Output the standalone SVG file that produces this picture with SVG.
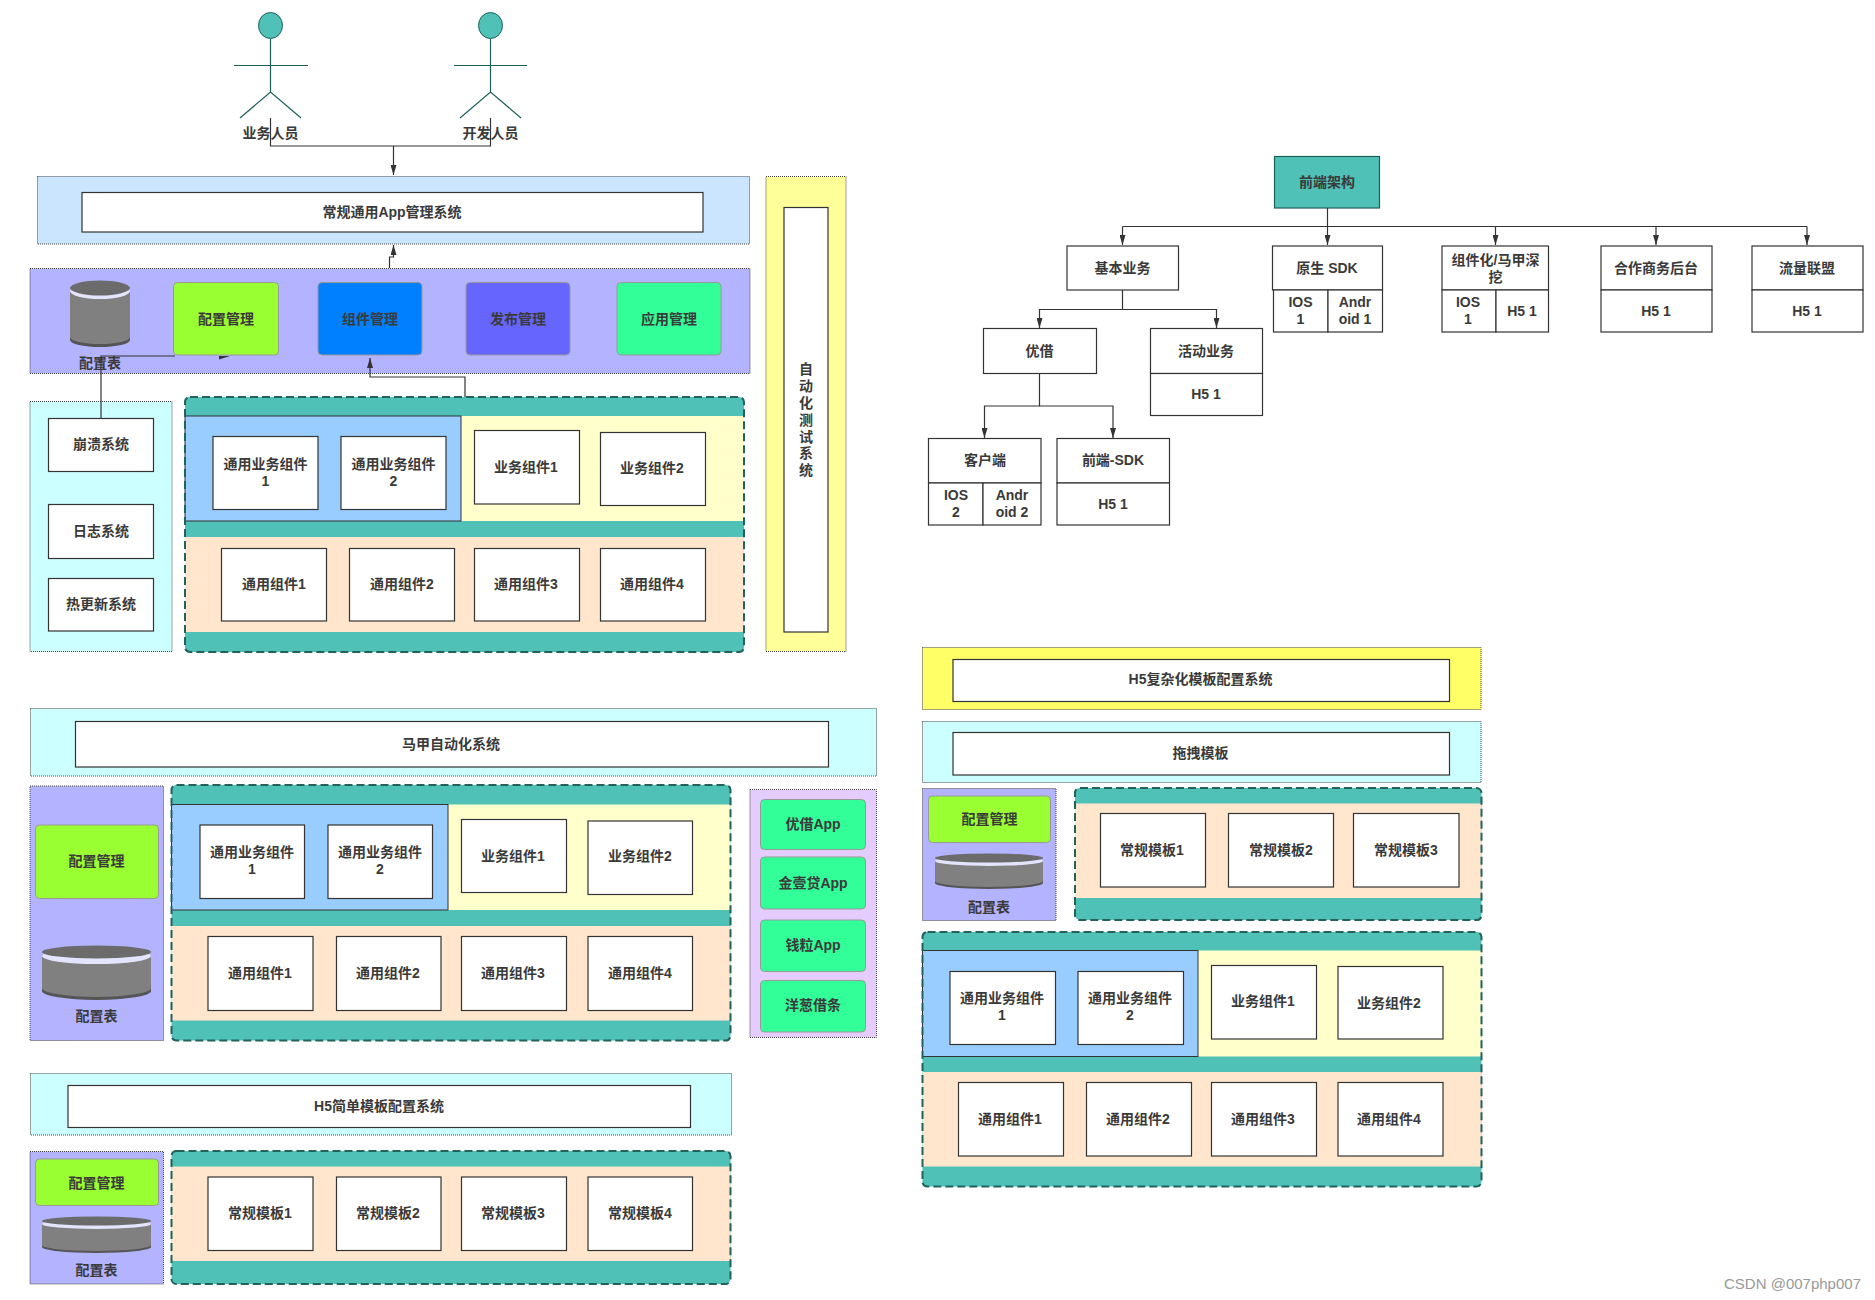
<svg xmlns="http://www.w3.org/2000/svg" width="1875" height="1300" viewBox="0 0 1875 1300">
<defs>
<style>
text{font-family:"Liberation Sans","Noto Sans CJK SC",sans-serif;font-size:14px;font-weight:700;fill:#3a3a3a;text-anchor:middle;dominant-baseline:central}
.p{stroke:#444;stroke-width:1;stroke-dasharray:1 1}
.w{fill:#fff;stroke:#333;stroke-width:1.2}
.t{fill:#4fc1b7}
.d{fill:none;stroke:#23615b;stroke-width:2;stroke-dasharray:8 4}
.s{stroke:none}
.r{stroke:#999;stroke-width:1}
.c{fill:none;stroke:#333;stroke-width:1.2}
.a{stroke:#1f5f5a;stroke-width:1.2;fill:none}
.h{fill:#4fc1b7;stroke:#1f5f5a;stroke-width:1}
.cb{fill:#808080}.cd{fill:#555}.ct{fill:#6b6b6b}.cl{fill:#e4e4ff}
.e1{fill:#ccffff}.e2{fill:#b3b3ff}.e3{fill:#99ff33}.e4{fill:#33ff99}.e5{fill:#ffe6cc}.e6{fill:#99ccff}.e7{fill:#ffffcc}
</style>
<marker id="arr" viewBox="0 0 10 6" refX="10" refY="3" markerWidth="10" markerHeight="6" markerUnits="userSpaceOnUse" orient="auto"><path d="M0 0L10 3L0 6Z" fill="#333"/></marker>
</defs>
<rect width="1875" height="1300" fill="#fff"/>

<g id="actor-business">
<ellipse class="h" cx="270.5" cy="25.5" rx="12" ry="13"/>
<path class="a" d="M270.5 39V92M234 65.5H308M240 118L270.5 92L301 118"/>
<text x="270.5" y="133">业务人员</text>
</g>
<g id="actor-developer">
<ellipse class="h" cx="490.5" cy="25.5" rx="12" ry="13"/>
<path class="a" d="M490.5 39V92M454 65.5H527M460 118L490.5 92L521 118"/>
<text x="490.5" y="133">开发人员</text>
</g>

<!-- app management system -->
<g id="app-system">
<rect class="p" x="37.5" y="176.5" width="712" height="67.5" fill="#cce5ff"/>
<rect class="w" x="82" y="192.5" width="621" height="39.5"/>
<text x="392" y="212">常规通用App管理系统</text>
</g>
<g id="app-tools">
<rect class="p" x="30" y="268.5" width="720" height="105" fill="#b3b3ff"/>
<path class="cd" d="M70 290V340A30 7 0 0 0 130 340V290Z"/>
<path class="cb" d="M70 290V337A30 7 0 0 0 130 337V290Z"/>
<ellipse class="cl" cx="100" cy="291" rx="30" ry="8"/>
<ellipse class="ct" cx="100" cy="288" rx="30" ry="7.5"/>
<text x="100" y="363">配置表</text>
</g>
<g id="tool-config"><rect class="e3 r" x="173.5" y="282.5" width="105" height="72.5" rx="4"/><text x="226" y="319">配置管理</text></g>
<g id="tool-component"><rect class="r" x="318" y="282.5" width="104" height="72.5" rx="4" fill="#007fff"/><text x="370" y="319">组件管理</text></g>
<g id="tool-release"><rect class="r" x="466" y="282.5" width="104" height="72.5" rx="4" fill="#6666ff"/><text x="518" y="319">发布管理</text></g>
<g id="tool-app"><rect class="e4 r" x="617" y="282.5" width="104" height="72.5" rx="4"/><text x="669" y="319">应用管理</text></g>

<g id="support-systems">
<rect class="p e1" x="30" y="401.5" width="142" height="250"/>
<rect class="w" x="48.5" y="418.5" width="105" height="53"/><text x="101" y="444">崩溃系统</text>
<rect class="w" x="48.5" y="504.5" width="105" height="54"/><text x="101" y="531">日志系统</text>
<rect class="w" x="48.5" y="578.5" width="105" height="52.5"/><text x="101" y="604">热更新系统</text>
</g>

<g id="app-components">
<rect class="t" x="185" y="397" width="559" height="255" rx="5"/>
<rect class="e7 s" x="185" y="416" width="559" height="105"/>
<rect class="e6" x="185" y="416" width="276" height="105" stroke="#333"/>
<rect class="e5 s" x="185" y="537" width="559" height="95"/>
<rect class="d" x="185" y="397" width="559" height="255" rx="5"/>
<rect class="w" x="213" y="436.5" width="105" height="73"/><text x="265.5" y="463.5">通用业务组件</text><text x="265.5" y="480.5">1</text>
<rect class="w" x="341" y="436.5" width="105" height="73"/><text x="393.5" y="463.5">通用业务组件</text><text x="393.5" y="480.5">2</text>
<rect class="w" x="474.5" y="430.5" width="105" height="73.5"/><text x="526" y="467">业务组件1</text>
<rect class="w" x="600.5" y="432.5" width="105" height="73"/><text x="652" y="468">业务组件2</text>
<rect class="w" x="221.5" y="548.5" width="105" height="72.5"/><text x="274" y="584">通用组件1</text>
<rect class="w" x="349.5" y="548.5" width="105" height="72.5"/><text x="402" y="584">通用组件2</text>
<rect class="w" x="474.5" y="548.5" width="105" height="72.5"/><text x="526" y="584">通用组件3</text>
<rect class="w" x="600.5" y="548.5" width="105" height="72.5"/><text x="652" y="584">通用组件4</text>
</g>

<g id="auto-test">
<rect class="p" x="766" y="176.5" width="80" height="475" fill="#ffff99"/>
<rect class="w" x="784" y="207.5" width="44" height="424.5"/>
<text x="806" y="369">自</text><text x="806" y="386">动</text><text x="806" y="403">化</text><text x="806" y="420">测</text><text x="806" y="437">试</text><text x="806" y="453">系</text><text x="806" y="470">统</text>
</g>

<!-- shell app automation -->
<g id="shell-system">
<rect class="p e1" x="30.5" y="708.5" width="846" height="67.5"/>
<rect class="w" x="75.5" y="721.5" width="753" height="45.5"/>
<text x="451" y="744">马甲自动化系统</text>
</g>
<g id="shell-config">
<rect class="p e2" x="30" y="786" width="133.5" height="254.5"/>
<rect class="e3 r" x="35.5" y="825" width="123" height="73.5" rx="4"/>
<text x="96.5" y="861">配置管理</text>
<path class="cd" d="M42 955V991A54.5 9 0 0 0 151 991V955Z"/>
<path class="cb" d="M42 955V988A54.5 9 0 0 0 151 988V955Z"/>
<ellipse class="cl" cx="96.5" cy="956" rx="54.5" ry="8"/>
<ellipse class="ct" cx="96.5" cy="952" rx="54.5" ry="6.5"/>
<text x="96.5" y="1016">配置表</text>
</g>
<g id="shell-components">
<rect class="t" x="171.5" y="785" width="559" height="255.5" rx="5"/>
<rect class="e7 s" x="171.5" y="804.5" width="559" height="105.5"/>
<rect class="e6" x="171.5" y="804.5" width="276.5" height="105.5" stroke="#333"/>
<rect class="e5 s" x="171.5" y="926" width="559" height="94.5"/>
<rect class="d" x="171.5" y="785" width="559" height="255.5" rx="5"/>
<rect class="w" x="200" y="825" width="104.5" height="73.5"/><text x="252" y="852">通用业务组件</text><text x="252" y="869">1</text>
<rect class="w" x="328" y="825" width="104.5" height="73.5"/><text x="380" y="852">通用业务组件</text><text x="380" y="869">2</text>
<rect class="w" x="461.5" y="819.5" width="105" height="73"/><text x="513" y="856">业务组件1</text>
<rect class="w" x="588" y="821" width="104.5" height="73.5"/><text x="640" y="856">业务组件2</text>
<rect class="w" x="208" y="936.5" width="105" height="74"/><text x="260" y="973">通用组件1</text>
<rect class="w" x="336.5" y="936.5" width="104.5" height="74"/><text x="388" y="973">通用组件2</text>
<rect class="w" x="461.5" y="936.5" width="105" height="74"/><text x="513" y="973">通用组件3</text>
<rect class="w" x="588" y="936.5" width="104.5" height="74"/><text x="640" y="973">通用组件4</text>
</g>
<g id="shell-apps">
<rect class="p" x="750" y="789.5" width="126.5" height="248" fill="#e5ccff"/>
<rect class="e4 r" x="760.5" y="799.5" width="105" height="50" rx="4"/><text x="813" y="824">优借App</text>
<rect class="e4 r" x="760.5" y="857" width="105" height="52" rx="4"/><text x="813" y="883">金壹贷App</text>
<rect class="e4 r" x="760.5" y="920" width="105" height="51.5" rx="4"/><text x="813" y="945">钱粒App</text>
<rect class="e4 r" x="760.5" y="980.5" width="105" height="51.5" rx="4"/><text x="813" y="1005">洋葱借条</text>
</g>

<!-- simple H5 templates -->
<g id="h5-simple">
<rect class="p e1" x="30.5" y="1073.5" width="701" height="61.5"/>
<rect class="w" x="68" y="1085.5" width="622.5" height="42"/>
<text x="379" y="1106">H5简单模板配置系统</text>
</g>
<g id="h5-simple-config">
<rect class="p e2" x="30" y="1151.5" width="133.5" height="132.5"/>
<rect class="e3 r" x="35.5" y="1159" width="123" height="46.5" rx="4"/>
<text x="96.5" y="1182.5">配置管理</text>
<path class="cd" d="M42 1224V1247A54.5 6 0 0 0 151 1247V1224Z"/>
<path class="cb" d="M42 1224V1245A54.5 6 0 0 0 151 1245V1224Z"/>
<ellipse class="cl" cx="96.5" cy="1224" rx="54.5" ry="5"/>
<ellipse class="ct" cx="96.5" cy="1221" rx="54.5" ry="4.5"/>
<text x="96.5" y="1270">配置表</text>
</g>
<g id="h5-simple-templates">
<rect class="t" x="171.5" y="1151" width="559" height="133" rx="5"/>
<rect class="e5 s" x="171.5" y="1166.5" width="559" height="94.5"/>
<rect class="d" x="171.5" y="1151" width="559" height="133" rx="5"/>
<rect class="w" x="208" y="1177" width="105" height="73.5"/><text x="260" y="1213">常规模板1</text>
<rect class="w" x="336.5" y="1177" width="104.5" height="73.5"/><text x="388" y="1213">常规模板2</text>
<rect class="w" x="461.5" y="1177" width="105" height="73.5"/><text x="513" y="1213">常规模板3</text>
<rect class="w" x="588" y="1177" width="104.5" height="73.5"/><text x="640" y="1213">常规模板4</text>
</g>

<!-- front-end architecture tree -->
<g id="fe-root"><rect x="1274.5" y="156.5" width="105" height="51.5" fill="#4fc1b7" stroke="#1f5f5a" stroke-width="1.2"/><text x="1327" y="182">前端架构</text></g>
<g id="fe-basic"><rect class="w" x="1067" y="246" width="111.5" height="44"/><text x="1122.5" y="268">基本业务</text></g>
<g id="fe-native"><rect class="w" x="1272.5" y="246" width="110" height="44"/><rect class="w" x="1273.5" y="290" width="54.5" height="42"/><rect class="w" x="1328" y="290" width="54.5" height="42"/>
<text x="1327" y="268">原生 SDK</text><text x="1300.5" y="302">IOS</text><text x="1300.5" y="319">1</text><text x="1355" y="302">Andr</text><text x="1355" y="319">oid 1</text></g>
<g id="fe-component"><rect class="w" x="1442" y="246" width="106.5" height="44"/><rect class="w" x="1442" y="290" width="54" height="42"/><rect class="w" x="1496" y="290" width="52.5" height="42"/>
<text x="1495.5" y="259.5">组件化/马甲深</text><text x="1495.5" y="276.5">挖</text><text x="1468" y="302">IOS</text><text x="1468" y="319">1</text><text x="1522" y="311">H5 1</text></g>
<g id="fe-partner"><rect class="w" x="1601" y="246" width="111" height="44"/><rect class="w" x="1601" y="290" width="111" height="42"/><text x="1656" y="268">合作商务后台</text><text x="1656" y="311">H5 1</text></g>
<g id="fe-traffic"><rect class="w" x="1752" y="246" width="111" height="44"/><rect class="w" x="1752" y="290" width="111" height="42"/><text x="1807" y="268">流量联盟</text><text x="1807" y="311">H5 1</text></g>
<g id="fe-youjie"><rect class="w" x="983.5" y="328.5" width="113" height="45"/><text x="1039.5" y="350.5">优借</text></g>
<g id="fe-activity"><rect class="w" x="1150.5" y="328.5" width="112" height="45"/><rect class="w" x="1150.5" y="373.5" width="112" height="42"/><text x="1206" y="350.5">活动业务</text><text x="1206" y="394">H5 1</text></g>
<g id="fe-client"><rect class="w" x="928.5" y="438.5" width="112.5" height="44.5"/><rect class="w" x="928.5" y="483" width="54.5" height="42"/><rect class="w" x="983" y="483" width="58" height="42"/>
<text x="985" y="460">客户端</text><text x="956" y="495">IOS</text><text x="956" y="512">2</text><text x="1012" y="495">Andr</text><text x="1012" y="512">oid 2</text></g>
<g id="fe-sdk"><rect class="w" x="1057" y="438.5" width="112.5" height="44.5"/><rect class="w" x="1057" y="483" width="112.5" height="42"/><text x="1113" y="460">前端-SDK</text><text x="1113" y="504">H5 1</text></g>

<!-- complex H5 templates -->
<g id="h5-complex">
<rect class="p" x="922.5" y="647.5" width="558.5" height="62" fill="#ffff66"/>
<rect class="w" x="953" y="659.5" width="496.5" height="42"/>
<text x="1200.5" y="679">H5复杂化模板配置系统</text>
</g>
<g id="h5-drag">
<rect class="p e1" x="922.5" y="721.5" width="558.5" height="61"/>
<rect class="w" x="953" y="732.5" width="496.5" height="42.5"/>
<text x="1200.5" y="753">拖拽模板</text>
</g>
<g id="h5-complex-config">
<rect class="p e2" x="922.5" y="788.5" width="133.5" height="132"/>
<rect class="e3 r" x="928.5" y="796" width="122" height="46.5" rx="4"/>
<text x="989.5" y="819">配置管理</text>
<path class="cd" d="M935 861V883A54 6 0 0 0 1043 883V861Z"/>
<path class="cb" d="M935 861V881A54 6 0 0 0 1043 881V861Z"/>
<ellipse class="cl" cx="989" cy="861" rx="54" ry="5"/>
<ellipse class="ct" cx="989" cy="858" rx="54" ry="4.5"/>
<text x="989" y="907">配置表</text>
</g>
<g id="h5-complex-templates">
<rect class="t" x="1075" y="788" width="406.5" height="132" rx="5"/>
<rect class="e5 s" x="1075" y="803.5" width="406.5" height="94.5"/>
<rect class="d" x="1075" y="788" width="406.5" height="132" rx="5"/>
<rect class="w" x="1100.5" y="813.5" width="105" height="73.5"/><text x="1152" y="850">常规模板1</text>
<rect class="w" x="1228.5" y="813.5" width="105" height="73.5"/><text x="1281" y="850">常规模板2</text>
<rect class="w" x="1353.5" y="813.5" width="105.5" height="73.5"/><text x="1406" y="850">常规模板3</text>
</g>
<g id="h5-complex-components">
<rect class="t" x="922.5" y="932" width="559" height="254.5" rx="5"/>
<rect class="e7 s" x="922.5" y="950.5" width="559" height="106"/>
<rect class="e6" x="922.5" y="950.5" width="275.5" height="106" stroke="#333"/>
<rect class="e5 s" x="922.5" y="1072" width="559" height="94.5"/>
<rect class="d" x="922.5" y="932" width="559" height="254.5" rx="5"/>
<rect class="w" x="950" y="971.5" width="105.5" height="73"/><text x="1002" y="998">通用业务组件</text><text x="1002" y="1015">1</text>
<rect class="w" x="1078" y="971.5" width="105.5" height="73"/><text x="1130" y="998">通用业务组件</text><text x="1130" y="1015">2</text>
<rect class="w" x="1211.5" y="965.5" width="105" height="73.5"/><text x="1263" y="1001">业务组件1</text>
<rect class="w" x="1338" y="966.5" width="105" height="72.5"/><text x="1389" y="1003">业务组件2</text>
<rect class="w" x="958.5" y="1082.5" width="105" height="73.5"/><text x="1010" y="1119">通用组件1</text>
<rect class="w" x="1086.5" y="1082.5" width="105" height="73.5"/><text x="1138" y="1119">通用组件2</text>
<rect class="w" x="1211.5" y="1082.5" width="105" height="73.5"/><text x="1263" y="1119">通用组件3</text>
<rect class="w" x="1338" y="1082.5" width="105" height="73.5"/><text x="1389" y="1119">通用组件4</text>
</g>
<text x="1861" y="1283" style="font-family:'Liberation Sans',sans-serif;font-size:15px;font-weight:400;fill:#999;text-anchor:end">CSDN @007php007</text>

<!-- links between the blocks -->
<g id="connectors" class="c">
<path d="M270.5 118V146H490.5V118M393.5 146V175" marker-end="url(#arr)"/>
<path d="M389.5 268V257H393.5V245" marker-end="url(#arr)"/>
<path d="M101 418V356H175"/>
<polygon points="219,356 230,356 219,359.5" fill="#333" stroke="none"/>
<path d="M465 397V377H370V358" marker-end="url(#arr)"/>
<path d="M1327.5 208V245" marker-end="url(#arr)"/>
<path d="M1122.5 226.5H1807M1122.5 226.5V245" marker-end="url(#arr)"/>
<path d="M1495.5 226.5V245" marker-end="url(#arr)"/>
<path d="M1656 226.5V245" marker-end="url(#arr)"/>
<path d="M1807 226.5V245" marker-end="url(#arr)"/>
<path d="M1122.5 290V309.5H1039.5V328" marker-end="url(#arr)"/>
<path d="M1122.5 309.5H1216.5V328" marker-end="url(#arr)"/>
<path d="M1039.5 373V406H984.5V438" marker-end="url(#arr)"/>
<path d="M1039.5 406H1113V438" marker-end="url(#arr)"/>
</g>
</svg>
